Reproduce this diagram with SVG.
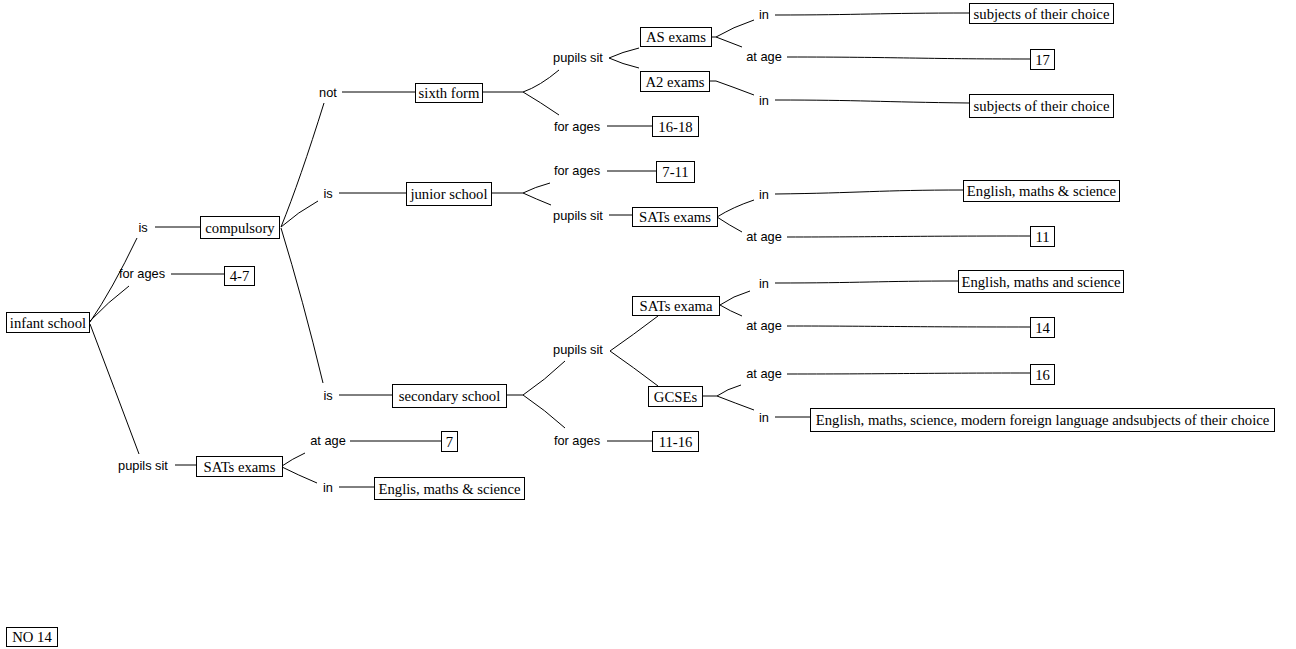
<svg xmlns="http://www.w3.org/2000/svg" width="1296" height="649" viewBox="0 0 1296 649">
<style>
.n rect{fill:#fff;stroke:#000;stroke-width:1}
.n text{font-family:"Liberation Serif","Times New Roman",serif;font-size:14.7px;fill:#000;text-anchor:middle;dominant-baseline:central}
.l{font-family:"Liberation Sans",Arial,sans-serif;font-size:12.8px;fill:#000;text-anchor:middle;dominant-baseline:central}
#connectors path{fill:none;stroke:#000;stroke-width:1}
</style>
<rect width="1296" height="649" fill="#fff"/>
<g id="connectors">
<path d="M90,322 Q112,290 137,238"/>
<path d="M90,321 Q108,302 129,286"/>
<path d="M90,324 Q115,390 139,454"/>
<path d="M155,227 H200"/>
<path d="M171,274 H224"/>
<path d="M175,465 H196"/>
<path d="M281,227 Q300,180 324,103"/>
<path d="M281,227 Q298,212 318,201"/>
<path d="M281,228 Q303,300 323,383"/>
<path d="M342,92 H415"/>
<path d="M339,193 H406"/>
<path d="M339,395 H392"/>
<path d="M282,466 Q292,459 305,453"/>
<path d="M282,467 Q298,475 317,483"/>
<path d="M350,441 H441"/>
<path d="M339,487 H374"/>
<path d="M482,92 H523 Q540,86 559,70"/>
<path d="M523,92 Q540,102 559,115"/>
<path d="M607,126 H652"/>
<path d="M491,193 H523 Q535,187 550,183"/>
<path d="M523,193 Q536,199 551,205"/>
<path d="M607,171 H656"/>
<path d="M609,215 H632"/>
<path d="M506,395 H523 Q545,380 565,361"/>
<path d="M523,395 Q545,410 565,428"/>
<path d="M607,441 H652"/>
<path d="M609,58 Q622,52 639,48"/>
<path d="M609,58 Q622,64 639,68"/>
<path d="M610,351 Q633,335 658,316"/>
<path d="M610,351 Q633,367 658,386"/>
<path d="M711,37 H716 Q733,27 754,20"/>
<path d="M716,37 Q729,42 742,47"/>
<path d="M775,15 C860,15 880,13 969,13"/>
<path d="M787,57 C900,57 920,59 1030,59"/>
<path d="M709,81 H716 Q733,87 754,95"/>
<path d="M775,100 C860,100 880,102 969,103"/>
<path d="M717,217 Q733,207 754,200"/>
<path d="M717,217 Q729,225 742,232"/>
<path d="M775,194 C860,193 880,190 963,190"/>
<path d="M787,237 C880,237 900,236 1030,236"/>
<path d="M720,305 Q733,296 750,291"/>
<path d="M720,305 Q730,311 742,316"/>
<path d="M775,283 C860,283 880,281 958,281"/>
<path d="M787,326 C880,326 900,327 1030,327"/>
<path d="M702,396 H717 Q727,389 741,385"/>
<path d="M717,396 Q735,403 754,410"/>
<path d="M787,374 C900,374 920,373 1030,373"/>
<path d="M775,417 H810"/>
</g>
<g id="labels">
<text class="l" x="143" y="227">is</text>
<text class="l" x="142" y="273">for ages</text>
<text class="l" x="143" y="465">pupils sit</text>
<text class="l" x="328" y="92">not</text>
<text class="l" x="328" y="193">is</text>
<text class="l" x="328" y="395">is</text>
<text class="l" x="328" y="440">at age</text>
<text class="l" x="328" y="487">in</text>
<text class="l" x="578" y="57">pupils sit</text>
<text class="l" x="577" y="126">for ages</text>
<text class="l" x="577" y="170">for ages</text>
<text class="l" x="578" y="215">pupils sit</text>
<text class="l" x="578" y="349">pupils sit</text>
<text class="l" x="577" y="440">for ages</text>
<text class="l" x="764" y="14">in</text>
<text class="l" x="764" y="56">at age</text>
<text class="l" x="764" y="100">in</text>
<text class="l" x="764" y="194">in</text>
<text class="l" x="764" y="236">at age</text>
<text class="l" x="764" y="283">in</text>
<text class="l" x="764" y="325">at age</text>
<text class="l" x="764" y="373">at age</text>
<text class="l" x="764" y="417">in</text>
</g>
<g id="n-infant" class="n"><rect x="6.5" y="312.5" width="83" height="20"/><text x="48" y="322.5">infant school</text></g>
<g id="n-compulsory" class="n"><rect x="200.5" y="216.5" width="79" height="22"/><text x="240" y="227.5">compulsory</text></g>
<g id="n-4-7" class="n"><rect x="224.5" y="266.5" width="30" height="19"/><text x="239.5" y="276">4-7</text></g>
<g id="n-sats-infant" class="n"><rect x="196.5" y="456.5" width="86" height="20"/><text x="239.5" y="466.5">SATs exams</text></g>
<g id="n-sixth" class="n"><rect x="415.5" y="83.5" width="67" height="19"/><text x="449" y="93">sixth form</text></g>
<g id="n-junior" class="n"><rect x="406.5" y="182.5" width="85" height="23"/><text x="449" y="194">junior school</text></g>
<g id="n-secondary" class="n"><rect x="392.5" y="384.5" width="114" height="23"/><text x="449.5" y="396">secondary school</text></g>
<g id="n-7" class="n"><rect x="441.5" y="431.5" width="16" height="20"/><text x="449.5" y="441.5">7</text></g>
<g id="n-englis" class="n"><rect x="374.5" y="477.5" width="150" height="22"/><text x="449.5" y="488.5">Englis, maths &amp; science</text></g>
<g id="n-as" class="n"><rect x="640.5" y="27.5" width="71" height="19"/><text x="676" y="37">AS exams</text></g>
<g id="n-a2" class="n"><rect x="640.5" y="71.5" width="69" height="20"/><text x="675" y="81.5">A2 exams</text></g>
<g id="n-16-18" class="n"><rect x="652.5" y="116.5" width="46" height="20"/><text x="675.5" y="126.5">16-18</text></g>
<g id="n-7-11" class="n"><rect x="656.5" y="161.5" width="38" height="21"/><text x="675.5" y="172">7-11</text></g>
<g id="n-sats-junior" class="n"><rect x="632.5" y="207.5" width="85" height="19"/><text x="675" y="217">SATs exams</text></g>
<g id="n-sats-exama" class="n"><rect x="632.5" y="296.5" width="87" height="19"/><text x="676" y="306">SATs exama</text></g>
<g id="n-gcses" class="n"><rect x="648.5" y="386.5" width="54" height="20"/><text x="675.5" y="396.5">GCSEs</text></g>
<g id="n-11-16" class="n"><rect x="652.5" y="431.5" width="46" height="20"/><text x="675.5" y="441.5">11-16</text></g>
<g id="n-subjects1" class="n"><rect x="969.5" y="3.5" width="144" height="20"/><text x="1041.5" y="13.5">subjects of their choice</text></g>
<g id="n-17" class="n"><rect x="1030.5" y="49.5" width="24" height="20"/><text x="1042.5" y="59.5">17</text></g>
<g id="n-subjects2" class="n"><rect x="969.5" y="94.5" width="144" height="23"/><text x="1041.5" y="106">subjects of their choice</text></g>
<g id="n-english-junior" class="n"><rect x="963.5" y="180.5" width="156" height="21"/><text x="1041.5" y="191">English, maths &amp; science</text></g>
<g id="n-11" class="n"><rect x="1030.5" y="226.5" width="24" height="20"/><text x="1042.5" y="236.5">11</text></g>
<g id="n-english-sec" class="n"><rect x="958.5" y="270.5" width="165" height="22"/><text x="1041" y="281.5">English, maths and science</text></g>
<g id="n-14" class="n"><rect x="1030.5" y="317.5" width="24" height="20"/><text x="1042.5" y="327.5">14</text></g>
<g id="n-16" class="n"><rect x="1030.5" y="364.5" width="24" height="20"/><text x="1042.5" y="374.5">16</text></g>
<g id="n-long" class="n"><rect x="810.5" y="408.5" width="464" height="23"/><text x="1042.5" y="420">English, maths, science, modern foreign language andsubjects of their choice</text></g>
<g id="n-no14" class="n"><rect x="6.5" y="627.5" width="51" height="19"/><text x="32" y="637">NO 14</text></g>
</svg>
